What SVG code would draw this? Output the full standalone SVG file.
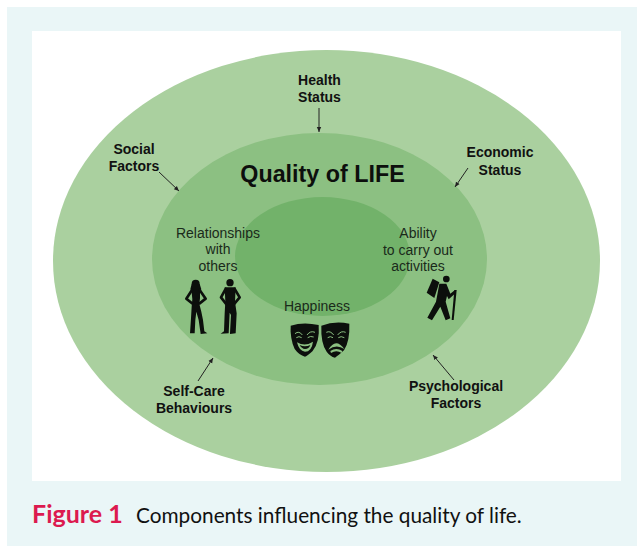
<svg xmlns="http://www.w3.org/2000/svg" width="637" height="547" viewBox="0 0 637 547">
<style>
.b{font-family:"Liberation Sans",Arial,sans-serif;font-size:14px;font-weight:700;fill:#111;text-anchor:middle}
.r{font-family:"Liberation Sans",Arial,sans-serif;font-size:14px;fill:#1a2a1a;text-anchor:middle}
.c{stroke:#222;stroke-width:1;fill:none;marker-end:url(#a)}
.k{fill:#0c0f0c}
.arm{fill:none;stroke:#0c0f0c;stroke-width:8;stroke-linejoin:round;stroke-linecap:round}
</style>
<defs><marker id="a" markerWidth="6" markerHeight="6" refX="5" refY="3" orient="auto" markerUnits="userSpaceOnUse"><path d="M0 .8L5 3L0 5.200z" fill="#222"/></marker></defs>
<rect x="0" y="0" width="637" height="547" fill="#fff"/>
<rect id="panel" x="7" y="7" width="630" height="539" fill="#eaf6f7"/>
<rect id="canvas" x="32" y="31" width="589" height="450" fill="#fff"/>
<g id="outer"><ellipse cx="326.500" cy="261" rx="273.500" ry="211" fill="#aad09f"/></g>
<g id="middle"><ellipse cx="319.500" cy="259" rx="167.500" ry="126" fill="#8cc082"/>
<text x="322.500" y="181.500" font-family="'Liberation Sans',Arial,sans-serif" font-size="23.300" font-weight="700" fill="#0d0f0d" text-anchor="middle">Quality of LIFE</text></g>
<g id="inner"><ellipse cx="322.500" cy="256.500" rx="87.500" ry="59.500" fill="#72b26a"/></g>
<g id="health"><text class="b" x="319.500" y="84.500">Health</text><text class="b" x="319.500" y="101.500">Status</text></g>
<g id="social"><text class="b" x="134" y="153.500">Social</text><text class="b" x="134" y="170.500">Factors</text></g>
<g id="economic"><text class="b" x="500" y="156.500">Economic</text><text class="b" x="500" y="174.500">Status</text></g>
<g id="selfcare"><text class="b" x="194" y="395.500">Self-Care</text><text class="b" x="194" y="412.500">Behaviours</text></g>
<g id="psychological"><text class="b" x="456" y="390.500">Psychological</text><text class="b" x="456" y="407.500">Factors</text></g>
<g id="relationships"><text class="r" x="218" y="238">Relationships</text><text class="r" x="218" y="254">with</text><text class="r" x="218" y="271">others</text>
<g transform="translate(180 270) scale(.33333)">
<circle class="k" cx="47" cy="41" r="12"/>
<path class="k" d="M35 42L31 58L40 66L56 66L64 58L59 42z"/>
<path class="k" d="M34 57L60 57L60 85L58 102L64 125L69 150L73 184L82 190L62 192L56 150L49 125L46 150L44 190L30 190L33 145L35 110L37 88z"/>
<path class="arm" d="M36 60L19 86L36 100M59 60L77 86L59 100"/>
<circle class="k" cx="150" cy="38" r="11"/>
<path class="k" d="M134 52L167 52L165 95L170 130L167 190L150 192L150 188L153 135L149 128L146 190L122 191L132 184L134 130L136 95z"/>
<path class="arm" d="M137 57L123 82L140 104M164 57L179 82L161 104"/>
</g></g>
<g id="ability"><text class="r" x="418" y="238">Ability</text><text class="r" x="418" y="255">to carry out</text><text class="r" x="418" y="271">activities</text>
<g transform="translate(420 270) scale(.33333)" class="k">
<circle cx="79" cy="27" r="10"/><path d="M38 26L58 37L43 84L20 68z"/>
<path d="M58 41L79 41L91 71L104 61L108 68L86 88L81 78L77 95L91 145L77 151L61 110L36 151L22 143L48 95z"/>
<path d="M103 60L110 60L101 150L95 150z"/>
</g></g>
<g id="happiness"><text class="r" x="317" y="311">Happiness</text>
<g transform="translate(285 315) scale(.33333)">
<path class="k" d="M17 32Q55 20 101 30Q105 80 83 108Q68 122 60 125Q42 120 29 102Q15 72 17 32z"/>
<path class="k" d="M109 32Q150 16 193 26Q195 78 177 106Q160 122 150 128Q135 124 125 110Q107 85 109 32z"/>
<g fill="none" stroke="#8cc082" stroke-width="3"><path d="M30 56Q42 46 52 60M66 60Q76 46 90 52M34 68Q42 62 50 68M68 68Q76 62 86 66"/><path d="M124 52Q136 46 146 60M158 60Q168 46 182 52M128 68Q136 62 144 68M160 68Q168 62 178 68"/></g>
<path fill="#8cc082" d="M36 82Q60 96 84 80Q80 110 60 110Q42 108 36 82z"/><path class="k" d="M44 90Q60 98 76 90Q72 102 60 102Q50 101 44 90z"/>
<path fill="#8cc082" d="M130 104Q152 66 178 102Q154 86 130 104z"/><path fill="#8cc082" d="M136 108Q154 96 172 108L170 114Q154 104 138 114z"/>
</g></g>
<g id="caption"><text x="32" y="523" font-family="Lato,'Liberation Sans',sans-serif" font-size="25" font-weight="700" fill="#dc1a4f">Figure 1</text>
<text x="136" y="523" font-family="Lato,'Liberation Sans',sans-serif" font-size="20.800" fill="#111">Components influencing the quality of life.</text></g>
<g id="connectors">
<path class="c" d="M319 108V132"/>
<path class="c" d="M159 172L179 191"/>
<path class="c" d="M468 168L455 187"/>
<path class="c" d="M198 381L213 358"/>
<path class="c" d="M454 380L433 355"/>
</g>
</svg>
